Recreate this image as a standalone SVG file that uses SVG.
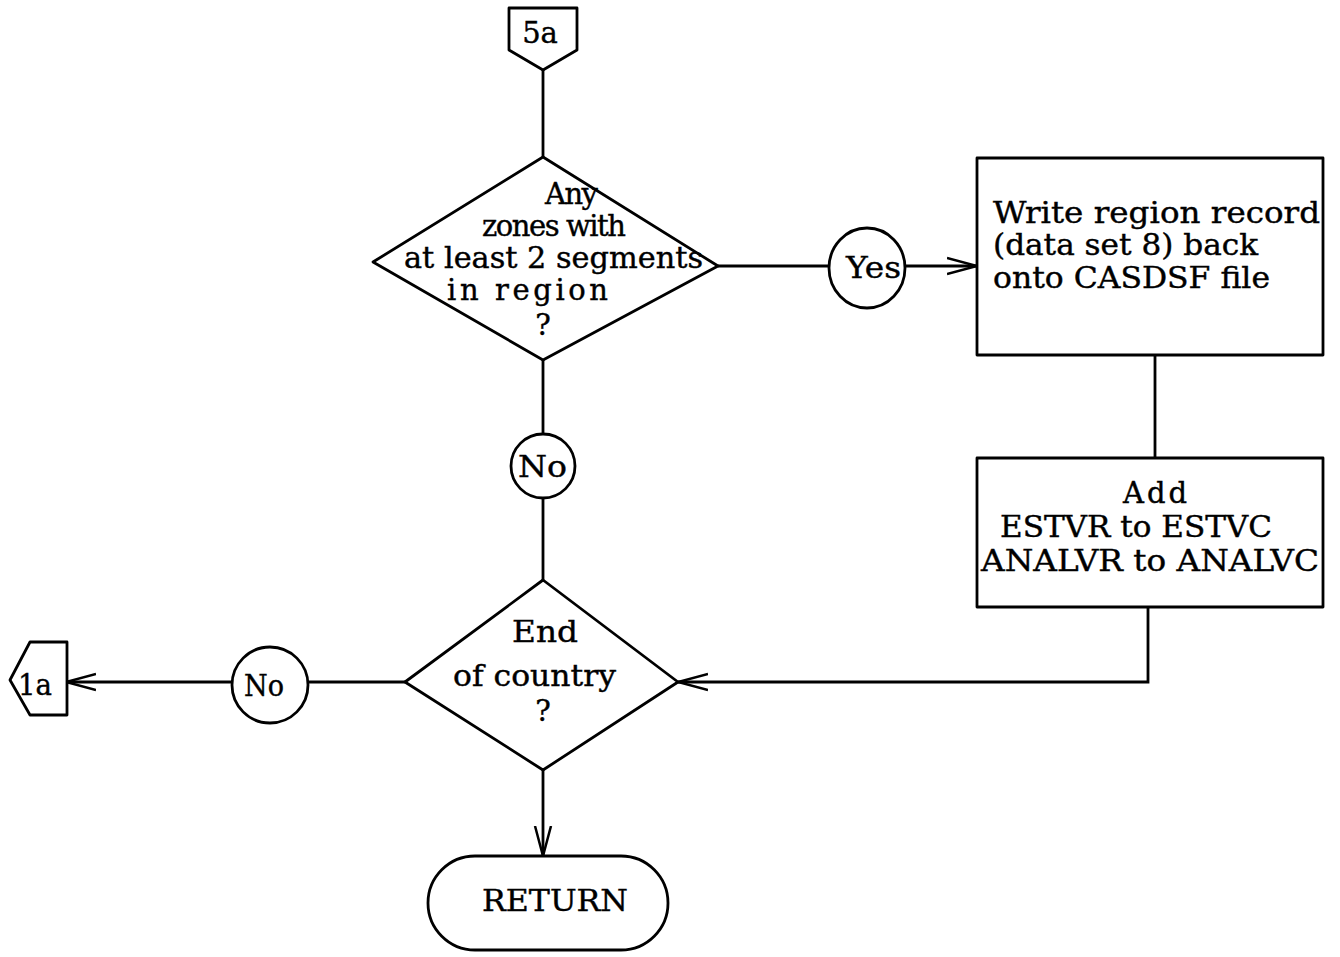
<svg xmlns="http://www.w3.org/2000/svg" width="1340" height="957" viewBox="0 0 1340 957">
  <style>
    .shape { fill: none; stroke: #000; stroke-width: 2.8; stroke-linejoin: round; }
    .line { fill: none; stroke: #000; stroke-width: 2.8; }
    .txt { font-family: "DejaVu Serif", "Liberation Serif", serif; font-size: 29px; fill: #000; stroke: #000; stroke-width: 0.4; }
    .mid { text-anchor: middle; }
  </style>
  <defs>
    <marker id="openArrow" viewBox="0 0 30 20" refX="30" refY="10" markerWidth="30" markerHeight="20" markerUnits="userSpaceOnUse" orient="auto">
      <path d="M0,2 L30,10 L0,18" fill="none" stroke="#000" stroke-width="2.5"/>
    </marker>
  </defs>
  <rect width="1340" height="957" fill="#fff"/>

  <!-- connectors -->
  <g id="connectors">
    <path class="line" d="M543,70 L543,157"/>
    <path class="line" d="M718,266 L829,266"/>
    <path class="line" d="M905,266 L977,266" marker-end="url(#openArrow)"/>
    <path class="line" d="M1155,355 L1155,458"/>
    <path class="line" d="M1148,607 L1148,682 L678,682" marker-end="url(#openArrow)"/>
    <path class="line" d="M543,360 L543,435"/>
    <path class="line" d="M543,497 L543,580"/>
    <path class="line" d="M405,682 L308,682"/>
    <path class="line" d="M232,682 L66,682" marker-end="url(#openArrow)"/>
    <path class="line" d="M543,770 L543,856" marker-end="url(#openArrow)"/>
  </g>

  <!-- off-page connector 5a -->
  <g id="conn-5a">
    <path class="shape" d="M509,8 L577,8 L577,50 L543,70 L509,50 Z"/>
    <text class="txt mid" x="540" y="43">5a</text>
  </g>

  <!-- decision: any zones -->
  <g id="decision-zones">
    <path class="shape" d="M543,157 L718,266 L543,360 L373,262 Z"/>
    <text class="txt" x="545" y="204" textLength="53" lengthAdjust="spacing">Any</text>
    <text class="txt" x="482" y="236" textLength="144" lengthAdjust="spacing">zones with</text>
    <text class="txt" x="404" y="268" textLength="299" lengthAdjust="spacingAndGlyphs">at least 2 segments</text>
    <text class="txt" x="447" y="300" textLength="161" lengthAdjust="spacing">in region</text>
    <text class="txt mid" x="543" y="335">?</text>
  </g>

  <!-- yes label -->
  <g id="label-yes">
    <ellipse class="shape" cx="867" cy="268" rx="38" ry="40"/>
    <text class="txt" x="846" y="278" textLength="55" lengthAdjust="spacingAndGlyphs">Yes</text>
  </g>

  <!-- write region record -->
  <g id="box-write">
    <rect class="shape" x="977" y="158" width="346" height="197"/>
    <text class="txt" x="993" y="223" textLength="327" lengthAdjust="spacingAndGlyphs">Write region record</text>
    <text class="txt" x="993" y="255" textLength="265" lengthAdjust="spacingAndGlyphs">(data set 8) back</text>
    <text class="txt" x="993" y="288" textLength="277" lengthAdjust="spacingAndGlyphs">onto CASDSF file</text>
  </g>

  <!-- add totals -->
  <g id="box-add">
    <rect class="shape" x="977" y="458" width="346" height="149"/>
    <text class="txt" x="1123" y="503" textLength="64" lengthAdjust="spacing">Add</text>
    <text class="txt" x="1000" y="537" textLength="272" lengthAdjust="spacingAndGlyphs">ESTVR to ESTVC</text>
    <text class="txt" x="981" y="571" textLength="338" lengthAdjust="spacingAndGlyphs">ANALVR to ANALVC</text>
  </g>

  <!-- no label (upper) -->
  <g id="label-no-1">
    <circle class="shape" cx="543" cy="466" r="32"/>
    <text class="txt" x="518" y="477" textLength="49" lengthAdjust="spacingAndGlyphs">No</text>
  </g>

  <!-- decision: end of country -->
  <g id="decision-country">
    <path class="shape" d="M543,580 L678,682 L543,770 L405,682 Z"/>
    <text class="txt" x="512" y="642" textLength="66" lengthAdjust="spacingAndGlyphs">End</text>
    <text class="txt" x="453" y="686" textLength="163" lengthAdjust="spacingAndGlyphs">of country</text>
    <text class="txt mid" x="543" y="721">?</text>
  </g>

  <!-- no label (lower) -->
  <g id="label-no-2">
    <circle class="shape" cx="270" cy="685" r="38"/>
    <text class="txt" x="244" y="696" textLength="40" lengthAdjust="spacingAndGlyphs">No</text>
  </g>

  <!-- off-page connector 1a -->
  <g id="conn-1a">
    <path class="shape" d="M67,642 L30,642 L10,680 L30,715 L67,715 Z"/>
    <text class="txt" x="18" y="695" textLength="34" lengthAdjust="spacingAndGlyphs">1a</text>
  </g>

  <!-- terminator -->
  <g id="term-return">
    <rect class="shape" x="428" y="856" width="240" height="94" rx="47" ry="47"/>
    <text class="txt" x="482" y="911" textLength="146" lengthAdjust="spacingAndGlyphs">RETURN</text>
  </g>
</svg>
